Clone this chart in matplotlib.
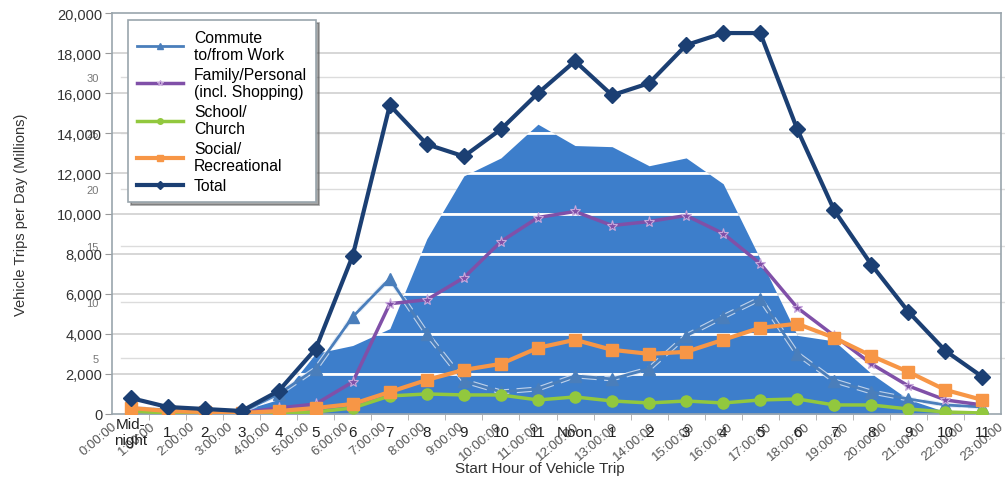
import numpy as np
import matplotlib
matplotlib.use("Agg")
import matplotlib.pyplot as plt

plt.rcParams['font.family'] = ['Liberation Sans', 'DejaVu Sans']

# ---- data (millions of vehicle trips per day) ----
hours = list(range(24))
hour_labels = ['Mid-\nnight'] + [str(h) for h in range(1, 12)] + ['Noon'] + [str(h) for h in range(1, 12)]
time_labels = ['%d:00:00' % h for h in hours]

commute = [300, 200, 150, 100, 1000, 2250, 4850, 6750, 4000, 1650, 1100, 1250,
           1900, 1750, 2250, 3900, 4850, 5750, 3000, 1650, 1100, 750, 450, 350]
family = [200, 100, 80, 60, 300, 500, 1600, 5500, 5700, 6800, 8600, 9800,
          10100, 9400, 9600, 9900, 9000, 7500, 5300, 3900, 2500, 1400, 700, 450]
school = [150, 50, 30, 20, 50, 100, 300, 900, 1000, 950, 950, 700,
          850, 650, 550, 650, 550, 700, 750, 450, 450, 250, 100, 50]
social = [300, 150, 100, 50, 150, 300, 500, 1100, 1700, 2200, 2500, 3300,
          3700, 3200, 3000, 3100, 3700, 4300, 4500, 3800, 2900, 2100, 1200, 700]
total = [800, 350, 250, 150, 1150, 3250, 7900, 15400, 13450, 12850, 14200, 16000,
         17600, 15900, 16500, 18400, 19000, 19000, 14200, 10150, 7450, 5100, 3150, 1850]

# background (overlapping) chart: area series on its own scale
area = [0.3, 0.2, 0.2, 0.3, 1.3, 5.4, 6.1, 7.6, 15.6, 21.2, 22.8, 25.8,
        23.9, 23.8, 22.1, 22.8, 20.5, 13.8, 7.0, 6.5, 3.6, 1.3, 0.2, 0.0]
area_ticks = [5, 10, 15, 20, 25, 30]

W, H = 1005, 481
fig = plt.figure(figsize=(W / 100, H / 100), dpi=100)

L, R, T, B = 112, 1001, 14, 415
rect = [L / W, (H - B) / H, (R - L) / W, (B - T) / H]
sec_top = 35.7

# background chart axes (grid, its own labels)
bl, br = 100, 1005
step, x0 = 38.5, 112
ax_bg = fig.add_axes([bl / W, (H - B) / H, (br - bl) / W, (B - T) / H])
ax_bg.set_xlim((bl - x0) / step, (br - x0) / step)
ax_bg.set_ylim(0, sec_top)
for s in ax_bg.spines.values():
    s.set_visible(False)
ax_bg.set_yticks(area_ticks)
ax_bg.set_yticklabels([str(t) for t in area_ticks], fontsize=8, color='#777777')
ax_bg.tick_params(axis='y', length=0, pad=1)
ax_bg.set_xticks(hours)
ax_bg.set_xticklabels(time_labels, rotation=40, ha='right', va='top',
                      rotation_mode='anchor', fontsize=9.5, color='#555555')
ax_bg.tick_params(axis='x', length=0, pad=4)
for t in area_ticks:
    ax_bg.axhline(t, color='#dcdcdc', lw=1, xmin=(L - bl) / (br - bl) + 0.01, zorder=0)

# area layer
ax_area = fig.add_axes(rect)
ax_area.set_xlim(-0.5, 23.5)
ax_area.set_ylim(0, sec_top)
ax_area.axis('off')
poly = ax_area.fill_between(hours, area, 0, color='#3d7ecb', lw=0)

# main chart
ax = fig.add_axes(rect)
ax.set_facecolor('none')
ax.set_xlim(-0.5, 23.5)
ax.set_ylim(0, 20000)
yt = list(range(0, 20001, 2000))
ax.set_yticks(yt)
ax.set_yticklabels(['{:,}'.format(v) for v in yt], fontsize=10.5, color='#333333')
ax.tick_params(axis='y', length=5, color='#999999', pad=2)
for v in yt[1:-1]:
    ax.axhline(v, color='#d0d0d0', lw=1.2, zorder=0)
    wl = ax.axhline(v, color='white', lw=2, zorder=0.5)
    wl.set_clip_path(poly.get_paths()[0], transform=ax_area.transData)

ax.set_xticks(hours)
ax.set_xticklabels(hour_labels, fontsize=11, color='#222222', va='center')
ax.tick_params(axis='x', length=0, pad=13)
ax.set_xticks([h + 0.5 for h in hours[:-1]], minor=True)
ax.tick_params(axis='x', which='minor', length=4, color='#aaaaaa')
for s in ax.spines.values():
    s.set_color('#9aa5ad')
    s.set_linewidth(1.2)

# faint light edge under the commute line so it reads on the blue area
ax.plot(hours, commute, color='#dfe8f5', lw=3.6, ls=(0, (3, 1.5)), alpha=0.8, zorder=2.9)
ax.plot(hours, commute, color='#4a7ebb', lw=2, marker='^', ms=8,
        mec='#4a7ebb', zorder=3, label='Commute\nto/from Work')
ax.plot(hours, family, color='#8050a8', lw=2.5, marker='*', ms=8,
        mec='#c8a8dc', mew=0.8, zorder=4, label='Family/Personal\n(incl. Shopping)')
ax.plot(hours, school, color='#92c83e', lw=2.5, marker='o', ms=8,
        mec='#92c83e', zorder=4, label='School/\nChurch')
ax.plot(hours, social, color='#f79646', lw=3, marker='s', ms=8,
        mec='#f79646', zorder=5, label='Social/\nRecreational')
ax.plot(hours, total, color='#1b3f73', lw=3, marker='D', ms=8,
        mec='#1b3f73', zorder=6, label='Total')

leg = ax.legend(loc='upper left', bbox_to_anchor=(0.018, 0.982), fontsize=11.3,
                frameon=True, fancybox=False, shadow=True, edgecolor='#9aa5ad',
                handlelength=2.9, handletextpad=0.7, labelspacing=0.3,
                borderpad=0.6, markerscale=0.5, borderaxespad=0)
leg.get_frame().set_linewidth(1.2)
leg.set_zorder(10)

ax.set_ylabel('Vehicle Trips per Day (Millions)', fontsize=10.5, color='#333333')
ax.yaxis.set_label_coords(-0.095, 0.5)
ax.set_xlabel('Start Hour of Vehicle Trip', fontsize=11, color='#333333')
ax.xaxis.set_label_coords(0.481, -0.117)

fig.savefig('out.png', dpi=100)
